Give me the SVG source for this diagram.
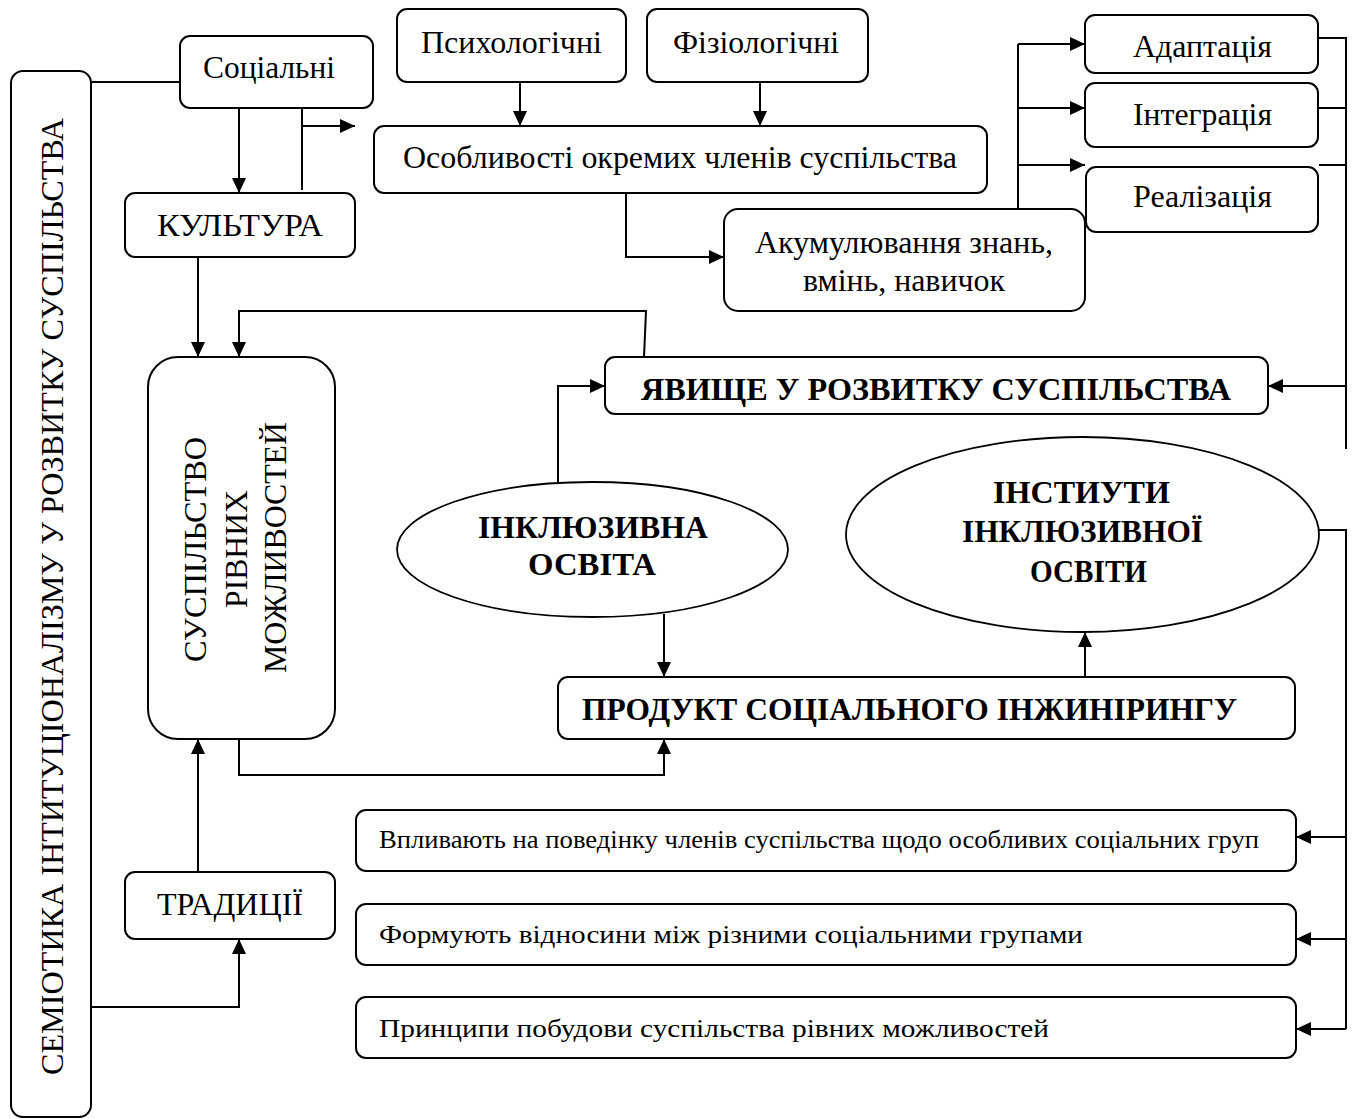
<svg xmlns="http://www.w3.org/2000/svg" width="1354" height="1119" viewBox="0 0 1354 1119">
  <defs>
    <marker id="arrow" markerUnits="userSpaceOnUse" markerWidth="16" markerHeight="14" refX="15" refY="7" orient="auto">
      <path d="M0,0 L15,7 L0,14 z" fill="#000"/>
    </marker>
  </defs>
  <style>
    .box { fill: #fff; stroke: #000; stroke-width: 2; }
    .oval { fill: #fff; stroke: #000; stroke-width: 1.8; }
    .t { font-family: "Liberation Serif", "Times New Roman", serif; font-size: 32px; fill: #000; }
    .b { font-weight: bold; }
    .s { font-size: 25px; }
    .line { fill: none; stroke: #000; stroke-width: 2; }
    .arr { fill: none; stroke: #000; stroke-width: 2; marker-end: url(#arrow); }
  </style>
  <rect width="1354" height="1119" fill="#fff"/>

  <!-- connectors -->
  <g id="connectors">
    <path class="line" d="M91,82 H180"/>
    <path class="arr" d="M239,108 V193"/>
    <path class="line" d="M302,108 V190"/>
    <path class="arr" d="M302,126 H355"/>
    <path class="arr" d="M520,82 V126"/>
    <path class="arr" d="M760,82 V126"/>
    <path class="arr" d="M626,193 V257 H724"/>
    <path class="line" d="M1018,44 V273"/>
    <path class="arr" d="M1018,44 H1085"/>
    <path class="arr" d="M1018,108 H1085"/>
    <path class="arr" d="M1018,165 H1085"/>
    <path class="line" d="M1318,38 H1346 V449"/>
    <path class="line" d="M1318,108 H1346"/>
    <path class="line" d="M1319,165 H1346"/>
    <path class="arr" d="M1346,386 H1268"/>
    <path class="arr" d="M644,357 L646,311 H239 V357"/>
    <path class="arr" d="M198,257 V357"/>
    <path class="arr" d="M198,872 V739"/>
    <path class="arr" d="M91,1007 H239 V939"/>
    <path class="arr" d="M239,739 V775 H664 V739"/>
    <path class="arr" d="M558,483 V386 H605"/>
    <path class="arr" d="M664,614 V677"/>
    <path class="arr" d="M1085,677 V632"/>
    <path class="line" d="M1319,530 H1346 V1029"/>
    <path class="arr" d="M1346,837 H1296"/>
    <path class="arr" d="M1346,939 H1296"/>
    <path class="arr" d="M1346,1029 H1296"/>
  </g>

  <!-- outer frame with the vertical title -->
  <g id="semiotics">
    <rect class="box" x="11" y="71" width="80" height="1046" rx="12"/>
    <text class="t" font-size="30" text-anchor="middle" transform="translate(63,596.5) rotate(-90)" textLength="957" lengthAdjust="spacingAndGlyphs">СЕМІОТИКА ІНТИТУЦІОНАЛІЗМУ У РОЗВИТКУ СУСПІЛЬСТВА</text>
  </g>

  <g id="social">
    <rect class="box" x="180" y="36" width="193" height="72" rx="10"/>
    <text class="t" x="203" y="78" textLength="132" lengthAdjust="spacingAndGlyphs">Соціальні</text>
  </g>

  <g id="psych">
    <rect class="box" x="397" y="9" width="229" height="73" rx="10"/>
    <text class="t" x="421" y="53" textLength="181" lengthAdjust="spacingAndGlyphs">Психологічні</text>
  </g>

  <g id="physio">
    <rect class="box" x="647" y="9" width="221" height="73" rx="10"/>
    <text class="t" x="673" y="53" textLength="166" lengthAdjust="spacingAndGlyphs">Фізіологічні</text>
  </g>

  <g id="features">
    <rect class="box" x="374" y="126" width="613" height="67" rx="10"/>
    <text class="t" x="403" y="168" textLength="554" lengthAdjust="spacingAndGlyphs">Особливості окремих членів суспільства</text>
  </g>

  <g id="culture">
    <rect class="box" x="125" y="193" width="230" height="64" rx="10"/>
    <text class="t" x="157" y="236" textLength="166" lengthAdjust="spacingAndGlyphs">КУЛЬТУРА</text>
  </g>

  <g id="accumulation">
    <rect class="box" x="724" y="209" width="361" height="102" rx="14"/>
    <text class="t" x="755" y="253" textLength="298" lengthAdjust="spacingAndGlyphs">Акумулювання знань,</text>
    <text class="t" x="803" y="291" textLength="202" lengthAdjust="spacingAndGlyphs">вмінь, навичок</text>
  </g>

  <g id="adaptation">
    <rect class="box" x="1085" y="15" width="233" height="58" rx="10"/>
    <text class="t" x="1133" y="57" textLength="139" lengthAdjust="spacingAndGlyphs">Адаптація</text>
  </g>

  <g id="integration">
    <rect class="box" x="1085" y="83" width="233" height="64" rx="10"/>
    <text class="t" x="1133" y="125" textLength="139" lengthAdjust="spacingAndGlyphs">Інтеграція</text>
  </g>

  <g id="realization">
    <rect class="box" x="1086" y="167" width="232" height="65" rx="10"/>
    <text class="t" x="1133" y="207" textLength="139" lengthAdjust="spacingAndGlyphs">Реалізація</text>
  </g>

  <g id="phenomenon">
    <rect class="box" x="605" y="357" width="663" height="57" rx="10"/>
    <text class="t b" x="641" y="400" textLength="590" lengthAdjust="spacingAndGlyphs">ЯВИЩЕ У РОЗВИТКУ СУСПІЛЬСТВА</text>
  </g>

  <g id="equal-society">
    <rect class="box" x="148" y="357" width="187" height="382" rx="30"/>
    <text class="t" text-anchor="middle" transform="translate(206,549.5) rotate(-90)" textLength="225" lengthAdjust="spacingAndGlyphs">СУСПІЛЬСТВО</text>
    <text class="t" text-anchor="middle" transform="translate(247,549) rotate(-90)" textLength="118" lengthAdjust="spacingAndGlyphs">РІВНИХ</text>
    <text class="t" text-anchor="middle" transform="translate(286,547.5) rotate(-90)" textLength="251" lengthAdjust="spacingAndGlyphs">МОЖЛИВОСТЕЙ</text>
  </g>

  <g id="inclusive-education">
    <ellipse class="oval" cx="592.5" cy="549.5" rx="195.5" ry="67.5"/>
    <text class="t b" x="478" y="538" textLength="230" lengthAdjust="spacingAndGlyphs">ІНКЛЮЗИВНА</text>
    <text class="t b" x="528" y="575" textLength="128" lengthAdjust="spacingAndGlyphs">ОСВІТА</text>
  </g>

  <g id="institutions">
    <ellipse class="oval" cx="1082.5" cy="534.5" rx="236.5" ry="97.5"/>
    <text class="t b" x="993" y="503" textLength="177" lengthAdjust="spacingAndGlyphs">ІНСТИУТИ</text>
    <text class="t b" x="962" y="542" textLength="241" lengthAdjust="spacingAndGlyphs">ІНКЛЮЗИВНОЇ</text>
    <text class="t b" x="1030" y="582" textLength="117" lengthAdjust="spacingAndGlyphs">ОСВІТИ</text>
  </g>

  <g id="product">
    <rect class="box" x="558" y="677" width="737" height="62" rx="10"/>
    <text class="t b" x="582" y="720" textLength="655" lengthAdjust="spacingAndGlyphs">ПРОДУКТ СОЦІАЛЬНОГО ІНЖИНІРИНГУ</text>
  </g>

  <g id="traditions">
    <rect class="box" x="125" y="872" width="210" height="67" rx="10"/>
    <text class="t" x="157" y="915" textLength="146" lengthAdjust="spacingAndGlyphs">ТРАДИЦІЇ</text>
  </g>

  <g id="influence">
    <rect class="box" x="356" y="810" width="940" height="61" rx="10"/>
    <text class="t s" x="379" y="848" textLength="880" lengthAdjust="spacingAndGlyphs">Впливають на поведінку членів суспільства щодо особливих соціальних груп</text>
  </g>

  <g id="relations">
    <rect class="box" x="356" y="904" width="940" height="61" rx="10"/>
    <text class="t s" x="379" y="943" textLength="704" lengthAdjust="spacingAndGlyphs">Формують відносини між різними соціальними групами</text>
  </g>

  <g id="principles">
    <rect class="box" x="356" y="997" width="940" height="61" rx="10"/>
    <text class="t s" x="379" y="1037" textLength="670" lengthAdjust="spacingAndGlyphs">Принципи побудови суспільства рівних можливостей</text>
  </g>
</svg>
